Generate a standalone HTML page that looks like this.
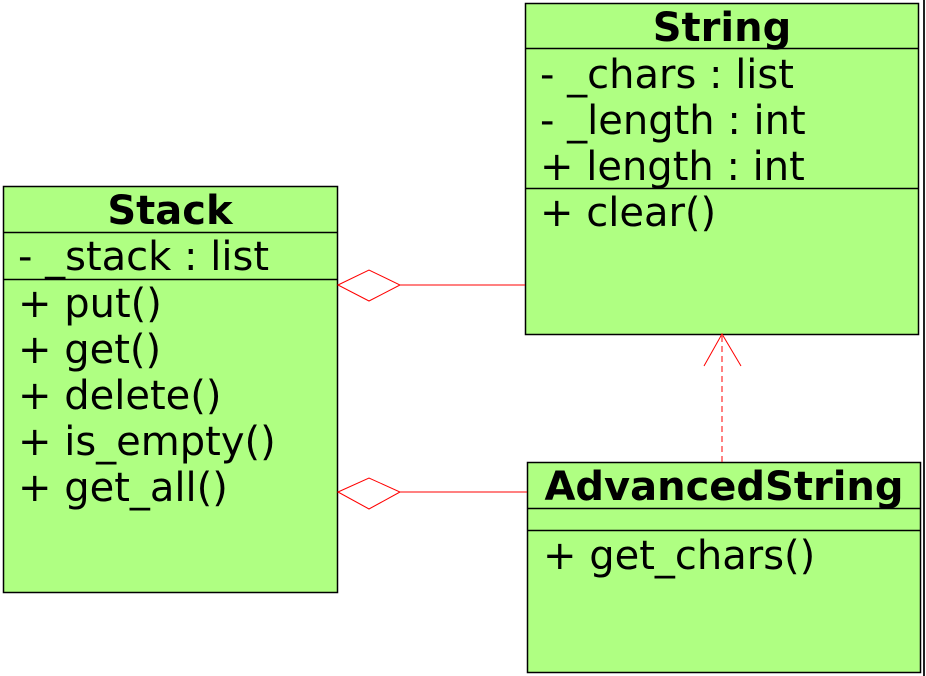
<!DOCTYPE html>
<html><head><meta charset="utf-8"><style>
html,body{margin:0;padding:0;background:#fff;width:926px;height:676px;overflow:hidden}
svg text{font-family:"DejaVu Sans","Liberation Sans",sans-serif;font-size:40px;fill:#000}
.b{font-weight:bold}
</style></head><body>
<svg width="926" height="676" xmlns="http://www.w3.org/2000/svg">
<g stroke="#000" stroke-width="1.5" fill="#afff82">
<rect x="3.5" y="186.5" width="334" height="406"/>
<rect x="525.5" y="3.5" width="393" height="331"/>
<rect x="527.5" y="462.5" width="393" height="210"/>
</g>
<g stroke="#000" stroke-width="1.5">
<line x1="3" y1="232.5" x2="338" y2="232.5"/>
<line x1="3" y1="279.5" x2="338" y2="279.5"/>
<line x1="525" y1="48.5" x2="919" y2="48.5"/>
<line x1="525" y1="188.5" x2="919" y2="188.5"/>
<line x1="527" y1="508.5" x2="921" y2="508.5"/>
<line x1="527" y1="530.5" x2="921" y2="530.5"/>
</g>
<line x1="924" y1="0" x2="924" y2="676" stroke="#222" stroke-width="2"/>
<g stroke="red" stroke-width="1" fill="none">
<polygon points="338,285 369,270 400,285 369,301"/>
<line x1="400" y1="285" x2="525" y2="285"/>
<polygon points="338,492 369,478 400,492 369,509"/>
<line x1="400" y1="492" x2="527" y2="492"/>
<line x1="722" y1="462" x2="722" y2="336" stroke-dasharray="6,4"/>
<polyline points="704,366 722,334 741,366"/>
</g>
<text class="b" x="170" y="224" text-anchor="middle">Stack</text>
<text x="18" y="270">- _stack : list</text>
<text x="18" y="317">+ put()</text>
<text x="18" y="363">+ get()</text>
<text x="18" y="409">+ delete()</text>
<text x="18" y="455">+ is_empty()</text>
<text x="18" y="501">+ get_all()</text>
<text class="b" x="722" y="41" text-anchor="middle">String</text>
<text x="540" y="88">- _chars : list</text>
<text x="540" y="134">- _length : int</text>
<text x="540" y="180">+ length : int</text>
<text x="540" y="226">+ clear()</text>
<text class="b" x="724" y="500" text-anchor="middle">AdvancedString</text>
<text x="543" y="569">+ get_chars()</text>
</svg>
</body></html>
